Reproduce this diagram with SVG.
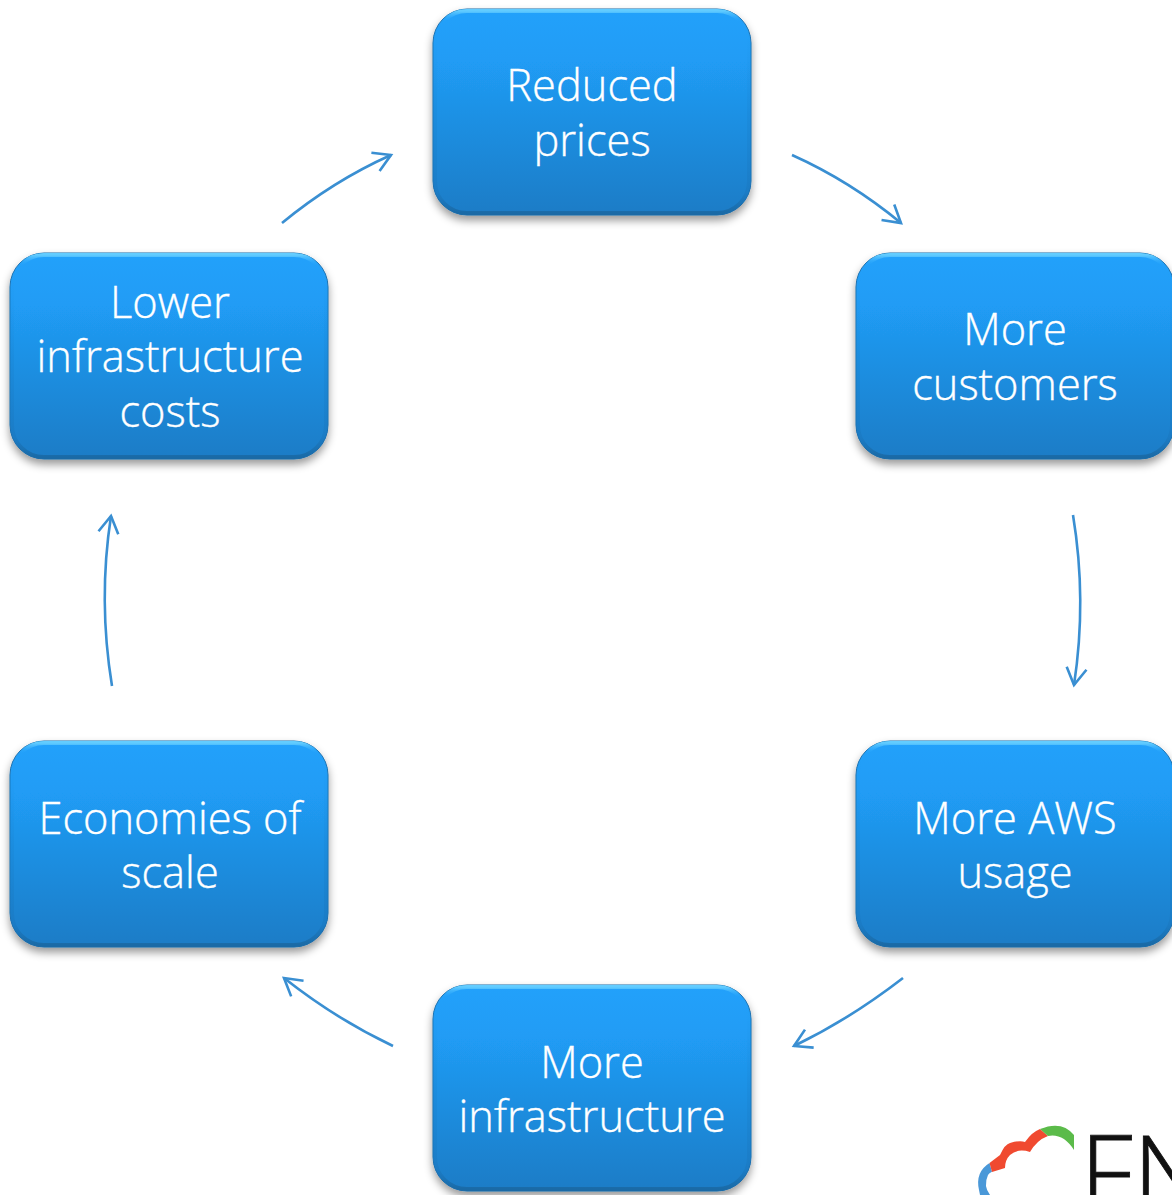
<svg xmlns="http://www.w3.org/2000/svg" width="1172" height="1195" viewBox="0 0 1172 1195">
<style>
.t{font-family:"Open Sans","Noto Sans",sans-serif;font-weight:300;font-size:43.4px;fill:#fff;stroke:#fff;stroke-width:.35;text-anchor:middle}
.box{fill:url(#g);stroke:#1b6ca8;stroke-width:1;filter:url(#sh)}
.hl{fill:none;stroke:url(#rim);stroke-width:4}
.c{fill:none;stroke:#3a8fd2;stroke-width:2.6;marker-end:url(#a)}
</style>
<defs>
<linearGradient id="g" x1="0" y1="0" x2="0" y2="1"><stop offset="0" stop-color="#22a1fb"/><stop offset=".25" stop-color="#209cf5"/><stop offset="1" stop-color="#1b7cc6"/></linearGradient>
<linearGradient id="rim" x1="0" y1="0" x2="0" y2="1"><stop offset="0" stop-color="#62ccff"/><stop offset=".05" stop-color="#22a1fb" stop-opacity=".2"/><stop offset=".5" stop-color="#1a88d8" stop-opacity=".5"/><stop offset=".9" stop-color="#1a78c0" stop-opacity=".6"/><stop offset="1" stop-color="#1a6aa6"/></linearGradient>
<filter id="sh" x="-10%" y="-10%" width="120%" height="125%"><feDropShadow dx="0" dy="5" stdDeviation="4.500" flood-color="#000" flood-opacity=".4"/></filter>
<marker id="a" markerUnits="userSpaceOnUse" markerWidth="28" markerHeight="28" refX="20" refY="12" orient="auto"><path d="M3 2L20 12L3 22" fill="none" stroke="#3a8fd2" stroke-width="2.6"/></marker>
</defs>
<g id="connectors">
<path class="c" d="M792 155Q850 181 901 223"/>
<path class="c" d="M1073 515Q1087 600 1074 685"/>
<path class="c" d="M903 978Q850 1019 794 1046"/>
<path class="c" d="M393 1046Q336 1019 284 978"/>
<path class="c" d="M112 686Q98 600 111 516"/>
<path class="c" d="M282 223Q333 181 391 155"/>
</g>
<g id="node-reduced-prices"><rect class="box" x="433" y="9" width="318" height="206" rx="34"/><rect class="hl" x="435" y="11" width="314" height="202" rx="32"/><text class="t" x="592" y="101">Reduced</text><text class="t" x="592" y="156">prices</text></g>
<g id="node-more-customers"><rect class="box" x="856" y="253" width="318" height="206" rx="34"/><rect class="hl" x="858" y="255" width="314" height="202" rx="32"/><text class="t" x="1015" y="345">More</text><text class="t" x="1015" y="400">customers</text></g>
<g id="node-more-aws-usage"><rect class="box" x="856" y="741" width="318" height="206" rx="34"/><rect class="hl" x="858" y="743" width="314" height="202" rx="32"/><text class="t" x="1015" y="834">More AWS</text><text class="t" x="1015" y="888">usage</text></g>
<g id="node-more-infrastructure"><rect class="box" x="433" y="985" width="318" height="206" rx="34"/><rect class="hl" x="435" y="987" width="314" height="202" rx="32"/><text class="t" x="592" y="1078">More</text><text class="t" x="592" y="1132">infrastructure</text></g>
<g id="node-economies-of-scale"><rect class="box" x="10" y="741" width="318" height="206" rx="34"/><rect class="hl" x="12" y="743" width="314" height="202" rx="32"/><text class="t" x="170" y="834">Economies of</text><text class="t" x="170" y="888">scale</text></g>
<g id="node-lower-infrastructure-costs"><rect class="box" x="10" y="253" width="318" height="206" rx="34"/><rect class="hl" x="12" y="255" width="314" height="202" rx="32"/><text class="t" x="170" y="318">Lower</text><text class="t" x="170" y="372">infrastructure</text><text class="t" x="170" y="427">costs</text></g>
<g id="logo">
<path fill="#4a98d8" d="M989.500 1163Q975 1172 979 1190L980 1195H990Q983 1186 988 1175Q989 1173 992 1171.700Z"/>
<path fill="#f04a30" d="M989.500 1163L1000 1155Q1005 1144 1010 1143Q1020 1140 1025 1142Q1032 1132 1040 1129L1048 1136Q1037 1140 1030 1152Q1018 1148 1010 1155Q1005 1160 1005 1168L992 1172Z"/>
<path fill="#5bbb4a" d="M1040 1129Q1062 1120 1074 1135V1150Q1063 1133 1048 1136Z"/>
<text x="1080" y="1211" font-family="'Open Sans',sans-serif" font-weight="300" font-size="105" fill="#111" stroke="#111" stroke-width=".8">FN</text>
</g>
</svg>
